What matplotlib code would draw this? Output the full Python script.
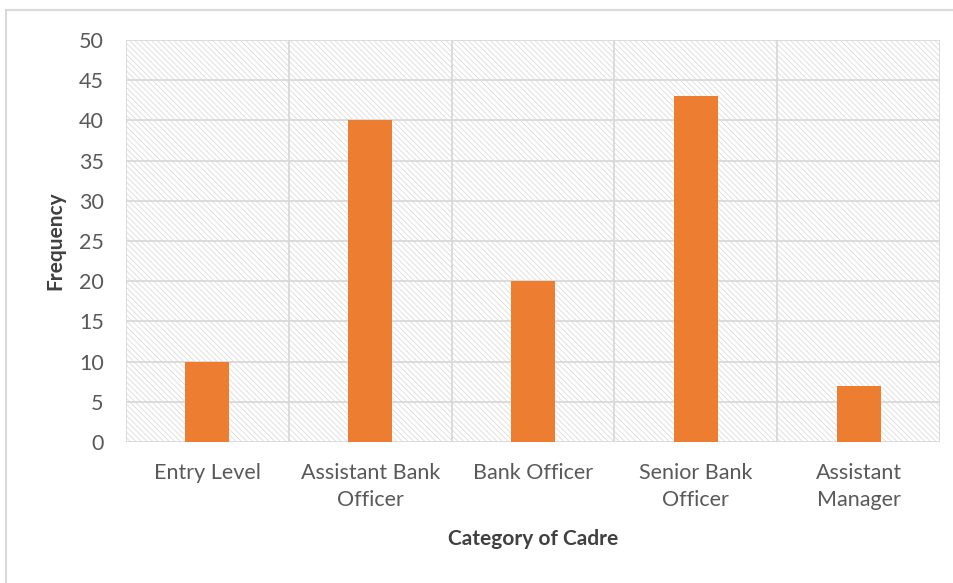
import matplotlib.pyplot as plt
from matplotlib.patches import Rectangle
from matplotlib.lines import Line2D

categories = ["Entry Level", "Assistant Bank\nOfficer", "Bank Officer",
              "Senior Bank\nOfficer", "Assistant\nManager"]
frequency = [10, 40, 20, 43, 7]

plt.rcParams['font.family'] = ['Lato', 'DejaVu Sans']
plt.rcParams['hatch.linewidth'] = 0.6

fig = plt.figure(figsize=(9.54, 5.83), dpi=100)
ax = fig.add_axes([126 / 954, 1 - 442 / 583, (940 - 126) / 954, (442 - 40) / 583])

x = list(range(len(categories)))
ax.set_xlim(-0.5, len(categories) - 0.5)
ax.set_ylim(0, 50)

# hatched plot background
ax.add_patch(Rectangle((0, 0), 1, 1, transform=ax.transAxes, facecolor='white',
                       edgecolor='#dcdcdc', hatch='\\' * 6, linewidth=0, zorder=0))

# gridlines
for yv in range(0, 51, 5):
    ax.axhline(yv, color='#d9d9d9', linewidth=1.3, zorder=1)
for xv in [i - 0.5 for i in range(len(categories) + 1)]:
    ax.axvline(xv, color='#d9d9d9', linewidth=1.3, zorder=1)

ax.bar(x, frequency, width=0.27, color='#ED7D31', zorder=3)

ax.set_xticks(x)
ax.set_xticklabels(categories, fontsize=15.5, color='#595959', linespacing=1.45)
ax.set_yticks(range(0, 51, 5))
ax.set_yticklabels([str(v) for v in range(0, 51, 5)], fontsize=15.5, color='#595959')
ax.tick_params(length=0, axis='y', pad=16)
ax.tick_params(length=0, axis='x', pad=15)
for s in ax.spines.values():
    s.set_visible(False)

ax.set_ylabel("Frequency", fontsize=15, fontweight='bold', color='#404040', labelpad=10)
ax.set_xlabel("Category of Cadre", fontsize=15, fontweight='bold', color='#404040', labelpad=14)

# chart outline
fig.add_artist(Line2D([6 / 954, 6 / 954], [0, 1 - 10 / 583], color='#d9d9d9', linewidth=1.5))
fig.add_artist(Line2D([6 / 954, 1], [1 - 10 / 583, 1 - 10 / 583], color='#d9d9d9', linewidth=1.5))

fig.savefig('out.png', dpi=100, facecolor='white')
